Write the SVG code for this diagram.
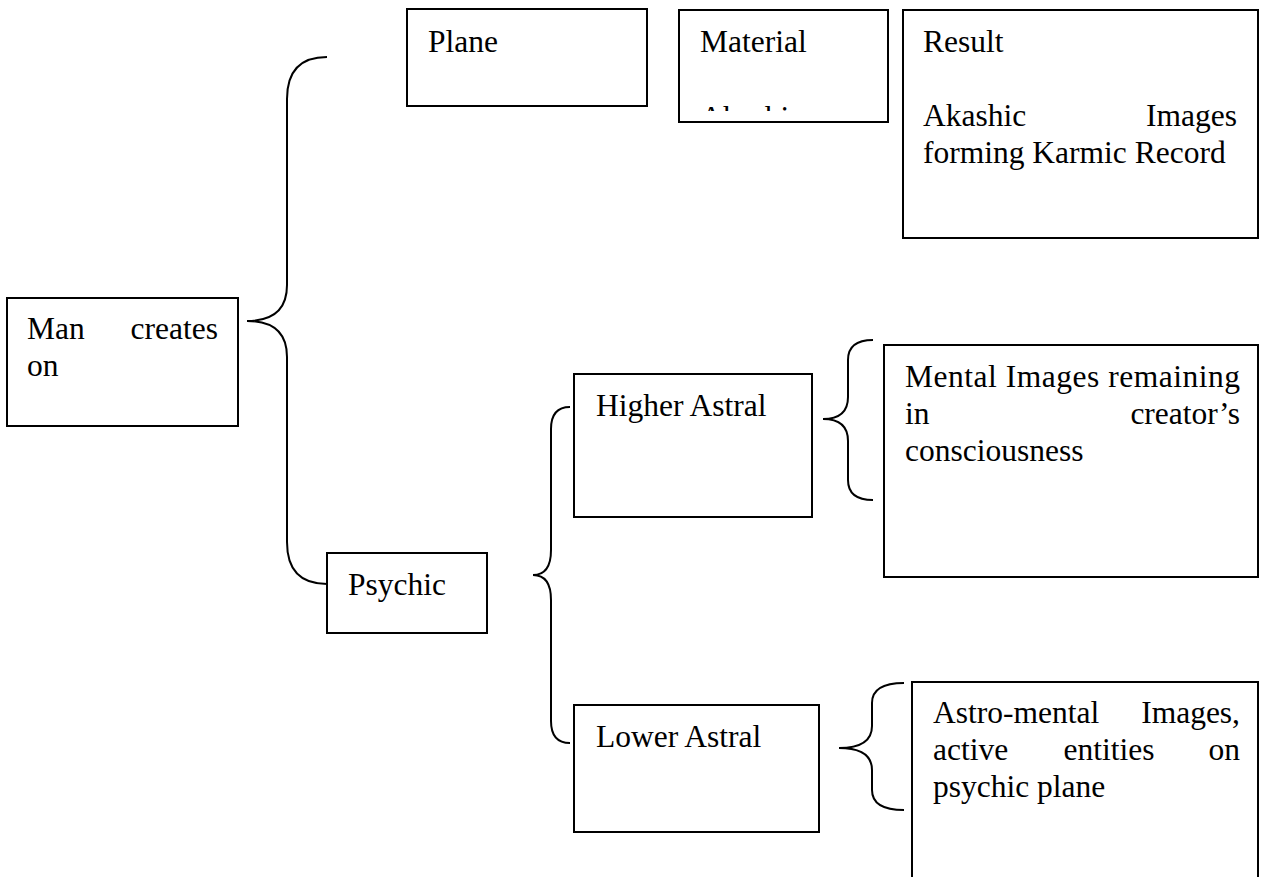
<svg xmlns="http://www.w3.org/2000/svg" width="1262" height="877" viewBox="0 0 1262 877">
<style>
.box{fill:#fff;stroke:#000;stroke-width:2}
.br{fill:none;stroke:#000;stroke-width:2}
text{font-family:"Liberation Serif","Times New Roman",serif;font-size:31.5px;fill:#000}
.e{text-anchor:end}
.m{text-anchor:middle}
</style>
<defs>
<clipPath id="matclip"><rect x="680" y="11" width="207" height="100"/></clipPath>
</defs>
<rect width="1262" height="877" fill="#fff"/>
<g id="connectors">
<path class="br" d="M327,57 Q287,57 287,99 L287,285 Q287,321 247,321 Q287,321 287,357 L287,542 Q287,584 327,584"/>
<path class="br" d="M570,407 Q551,407 551,429 L551,550 Q551,575 533,575 Q551,575 551,600 L551,721 Q551,743 570,743"/>
<path class="br" d="M873,340 Q848,340 848,360 L848,397 Q848,419 823,419 Q848,419 848,441 L848,480 Q848,500 873,500"/>
<path class="br" d="M904,683 Q872,683 872,703 L872,726 Q872,748 839,748 Q872,748 872,770 L872,790 Q872,810 904,810"/>
</g>
<g id="plane">
<rect class="box" x="407" y="9" width="240" height="97"/>
<text x="428" y="52">Plane</text>
</g>
<g id="material">
<rect class="box" x="679" y="10" width="209" height="112"/>
<text x="700" y="52">Material</text>
<text x="700" y="128" clip-path="url(#matclip)">Akashic</text>
</g>
<g id="result">
<rect class="box" x="903" y="10" width="355" height="228"/>
<text x="923" y="52">Result</text>
<text x="923" y="126">Akashic</text>
<text class="e" x="1237" y="126">Images</text>
<text x="923" y="163">forming Karmic Record</text>
</g>
<g id="man">
<rect class="box" x="7" y="298" width="231" height="128"/>
<text x="27" y="339">Man</text>
<text class="e" x="218" y="339">creates</text>
<text x="27" y="376">on</text>
</g>
<g id="psychic">
<rect class="box" x="327" y="553" width="160" height="80"/>
<text x="348" y="595">Psychic</text>
</g>
<g id="higher">
<rect class="box" x="574" y="374" width="238" height="143"/>
<text x="596" y="416">Higher Astral</text>
</g>
<g id="mental">
<rect class="box" x="884" y="345" width="374" height="232"/>
<text x="905" y="387" textLength="335" lengthAdjust="spacing">Mental Images remaining</text>
<text x="905" y="424">in</text>
<text class="e" x="1240" y="424">creator’s</text>
<text x="905" y="461">consciousness</text>
</g>
<g id="lower">
<rect class="box" x="574" y="705" width="245" height="127"/>
<text x="596" y="747">Lower Astral</text>
</g>
<g id="astro">
<rect class="box" x="912" y="682" width="346" height="220"/>
<text x="933" y="723">Astro-mental</text>
<text class="e" x="1240" y="723">Images,</text>
<text x="933" y="760">active</text>
<text class="m" x="1109" y="760">entities</text>
<text class="e" x="1240" y="760">on</text>
<text x="933" y="797">psychic plane</text>
</g>
</svg>
